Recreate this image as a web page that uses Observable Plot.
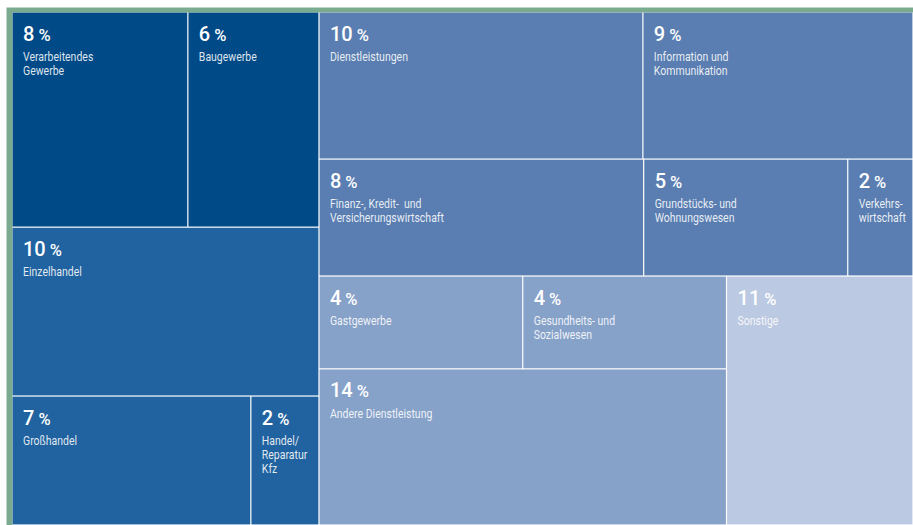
<!DOCTYPE html>
<html>
<head>
<meta charset="utf-8">
<script src="https://cdn.jsdelivr.net/npm/d3@7"></script>
<script src="https://cdn.jsdelivr.net/npm/@observablehq/plot@0.6"></script>
<style>
  html, body { margin: 0; padding: 0; background: #fff; }
  #chart svg { display: block; }
</style>
</head>
<body>
<div id="chart"></div>
<script>
// Branch names (sector labels), as printed
const names = [
  "Verarbeitendes\nGewerbe",
  "Baugewerbe",
  "Einzelhandel",
  "Großhandel",
  "Handel/\nReparatur\nKfz",
  "Dienstleistungen",
  "Information und\nKommunikation",
  "Finanz-, Kredit-\u00a0\u00a0und\nVersicherungswirtschaft",
  "Grundstücks- und\nWohnungswesen",
  "Verkehrs-\nwirtschaft",
  "Gastgewerbe",
  "Gesundheits- und\nSozialwesen",
  "Andere Dienstleistung",
  "Sonstige"
];
// Printed percentages
const percents = [8, 6, 10, 7, 2, 10, 9, 8, 5, 2, 4, 4, 14, 11];
// Unrounded shares as read from the tile areas
const shares = [8.18, 6.10, 11.21, 6.66, 1.90, 10.30, 8.59, 8.21, 5.16, 1.65, 4.09, 4.09, 13.76, 10.04];
// Grouping of the tiles (nesting of the treemap)
const groups = ["L/A", "L/A", "L", "L/C", "L/C", "R/1", "R/1", "R/2", "R/2", "R/2", "R/B/S/P", "R/B/S/P", "R/B/S", "R/B"];
// Tone class of each tile
const tones = ["Industrie", "Industrie", "Handel", "Handel", "Handel",
  "Dienst", "Dienst", "Dienst", "Dienst", "Dienst",
  "Dienst2", "Dienst2", "Dienst2", "Sonstige"];
const toneDomain = ["Industrie", "Handel", "Dienst", "Dienst2", "Sonstige"];
const toneColors = ["#004a87", "#2163a0", "#5a7eb1", "#87a2c9", "#bcc9e2"];

// build nested tree preserving first-occurrence order
const tree = {children: []};
names.forEach((name, i) => {
  let node = tree;
  for (const seg of groups[i].split("/")) {
    let child = node.children.find(c => c.key === seg);
    if (!child) { child = {key: seg, children: []}; node.children.push(child); }
    node = child;
  }
  node.children.push({key: "n" + i, name, percent: percents[i], share: shares[i], tone: tones[i]});
});

const root = d3.hierarchy(tree).sum(d => d.children ? 0 : d.share);
d3.treemap().tile(d3.treemapSliceDice).size([1, 1]).round(false)(root);

const leaves = root.leaves().map(n => ({
  name: n.data.name, percent: n.data.percent, tone: n.data.tone,
  x0: n.x0, x1: n.x1, y0: n.y0, y1: n.y1
}));

const plot = Plot.plot({
  width: 913,
  height: 525,
  marginTop: 12,
  marginLeft: 12,
  marginRight: 0,
  marginBottom: 0,
  x: {domain: [0, 1], axis: null},
  y: {domain: [0, 1], axis: null, reverse: true},
  color: {type: "ordinal", domain: toneDomain, range: toneColors},
  marks: [
    Plot.frame({fill: "#7aab8f", stroke: null, insetTop: -5, insetLeft: -6}),
    Plot.frame({fill: "#ffffff", stroke: null}),
    Plot.rect(leaves, {x1: "x0", x2: "x1", y1: "y0", y2: "y1", fill: "tone", inset: 0.6}),
    Plot.text(leaves, {
      x: "x0", y: "y0", text: d => d.percent + " %",
      dx: 10.5, dy: 28, textAnchor: "start", lineAnchor: "bottom",
      fill: "white", fontSize: 20, fontWeight: 500,
      fontFamily: "Roboto, 'Open Sans', sans-serif"
    }),
    Plot.text(leaves, {
      x: "x0", y: "y0", text: "name",
      dx: 10.5, dy: 38, textAnchor: "start", lineAnchor: "top",
      lineHeight: 1.15,
      fill: "white", fillOpacity: 0.88, fontSize: 12.5,
      fontFamily: "Roboto, 'Noto Sans', sans-serif"
    })
  ]
});

const svg = d3.select(plot);
// smaller percent sign after each number
svg.selectAll("text").each(function () {
  const t = d3.select(this);
  if (!t.select("tspan").empty()) return;
  const s = t.text();
  const m = /^(\d+) %$/.exec(s);
  if (!m) return;
  t.text(null);
  t.append("tspan").text(m[1]);
  t.append("tspan").attr("font-size", 16.5).attr("dx", 4).text("%");
});
// condensed look for sector names
svg.selectAll("text").each(function () {
  const t = d3.select(this);
  if (t.node().parentNode.getAttribute("font-size") === "12.5") {
    const tr = t.attr("transform") || "";
    t.attr("transform", tr + " scale(0.84,1)");
  }
});

document.getElementById("chart").appendChild(plot);
</script>
</body>
</html>
